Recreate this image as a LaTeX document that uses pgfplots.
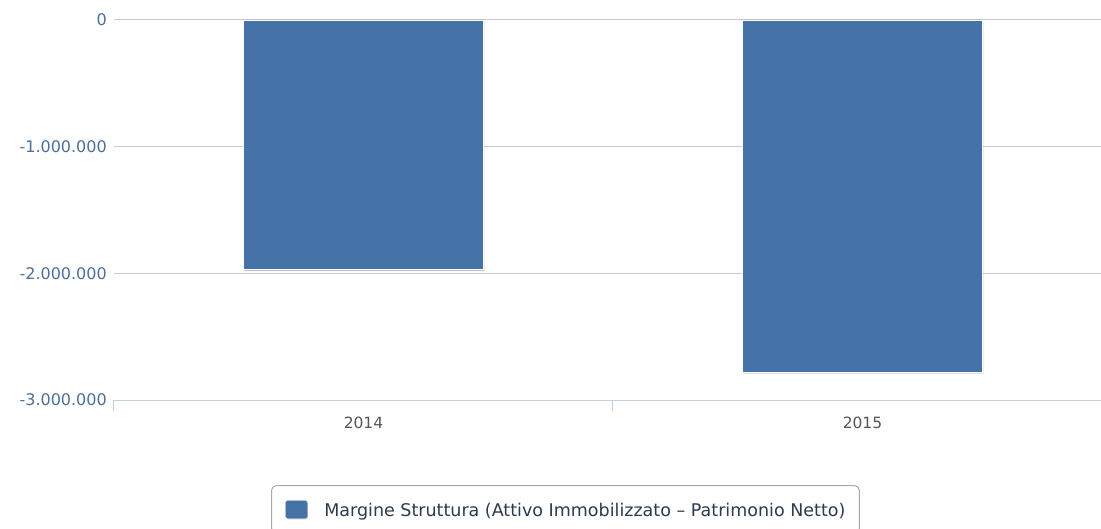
\documentclass[border=0pt]{standalone}
\usepackage{pgfplots}
\pgfplotsset{compat=1.18}
\usepackage{fontspec}
\setmainfont{DejaVu Sans}
\usetikzlibrary{shadows}
\definecolor{barc}{HTML}{4572A7}
\definecolor{gridc}{HTML}{CCCCCC}
\definecolor{axisc}{HTML}{C0D0E0}
\definecolor{ylab}{HTML}{4D6F98}
\definecolor{xlab}{HTML}{555555}
\definecolor{legtxt}{HTML}{2C3B50}
\definecolor{legbox}{HTML}{A8A8A8}
\begin{document}
\begin{tikzpicture}
\useasboundingbox (-114bp,-129bp) rectangle (987bp,400bp);
\begin{axis}[
  at={(0,0)}, anchor=south west,
  scale only axis, width=987bp, height=380bp,
  xmin=-0.5, xmax=1.478, ymin=-3000000, ymax=0,
  axis x line*=bottom, axis y line*=left,
  x axis line style={draw=axisc, line width=1bp, -},
  y axis line style={draw=none},
  ytick={-3000000,-2000000,-1000000,0},
  yticklabels={-3.000.000,-2.000.000,-1.000.000,0},
  scaled y ticks=false,
  ymajorgrids, grid style={draw=gridc, line width=1bp},
  ytick style={draw=none},
  yticklabel style={anchor=east, inner sep=0pt, xshift=-7bp, font=\fontsize{16bp}{16bp}\selectfont, text=ylab},
  xtick={0,1}, xticklabels={2014,2015},
  minor xtick={-0.5,0.5,1.5},
  tick align=outside, major tick length=0pt, minor tick length=11bp,
  xtick style={draw=axisc, line width=1bp},
  xticklabel style={anchor=north, inner sep=0pt, yshift=-16.7bp, font=\fontsize{15.5bp}{15.5bp}\selectfont, text=xlab},
  legend style={at={(0.1591,-0.2237)}, anchor=north west, draw=legbox, line width=1bp, rounded corners=5bp,
    inner xsep=14bp, inner ysep=15bp, font=\fontsize{17.5bp}{21bp}\selectfont, text=legtxt, column sep=17bp,
    nodes={inner sep=0pt}},
]
\addplot[ybar, bar width=240bp, fill=barc, draw=white, line width=0.8bp,
  drop shadow={shadow xshift=1bp, shadow yshift=-1.5bp, opacity=0.25, fill=black},
  legend image code/.code={\fill[barc, rounded corners=1.5bp] (0bp,-7.5bp) rectangle (21bp,9.5bp);}]
  coordinates {(0,-1970000) (1,-2780000)};
\addlegendentry{Margine Struttura (Attivo Immobilizzato – Patrimonio Netto)}
\end{axis}
\end{tikzpicture}
\end{document}
